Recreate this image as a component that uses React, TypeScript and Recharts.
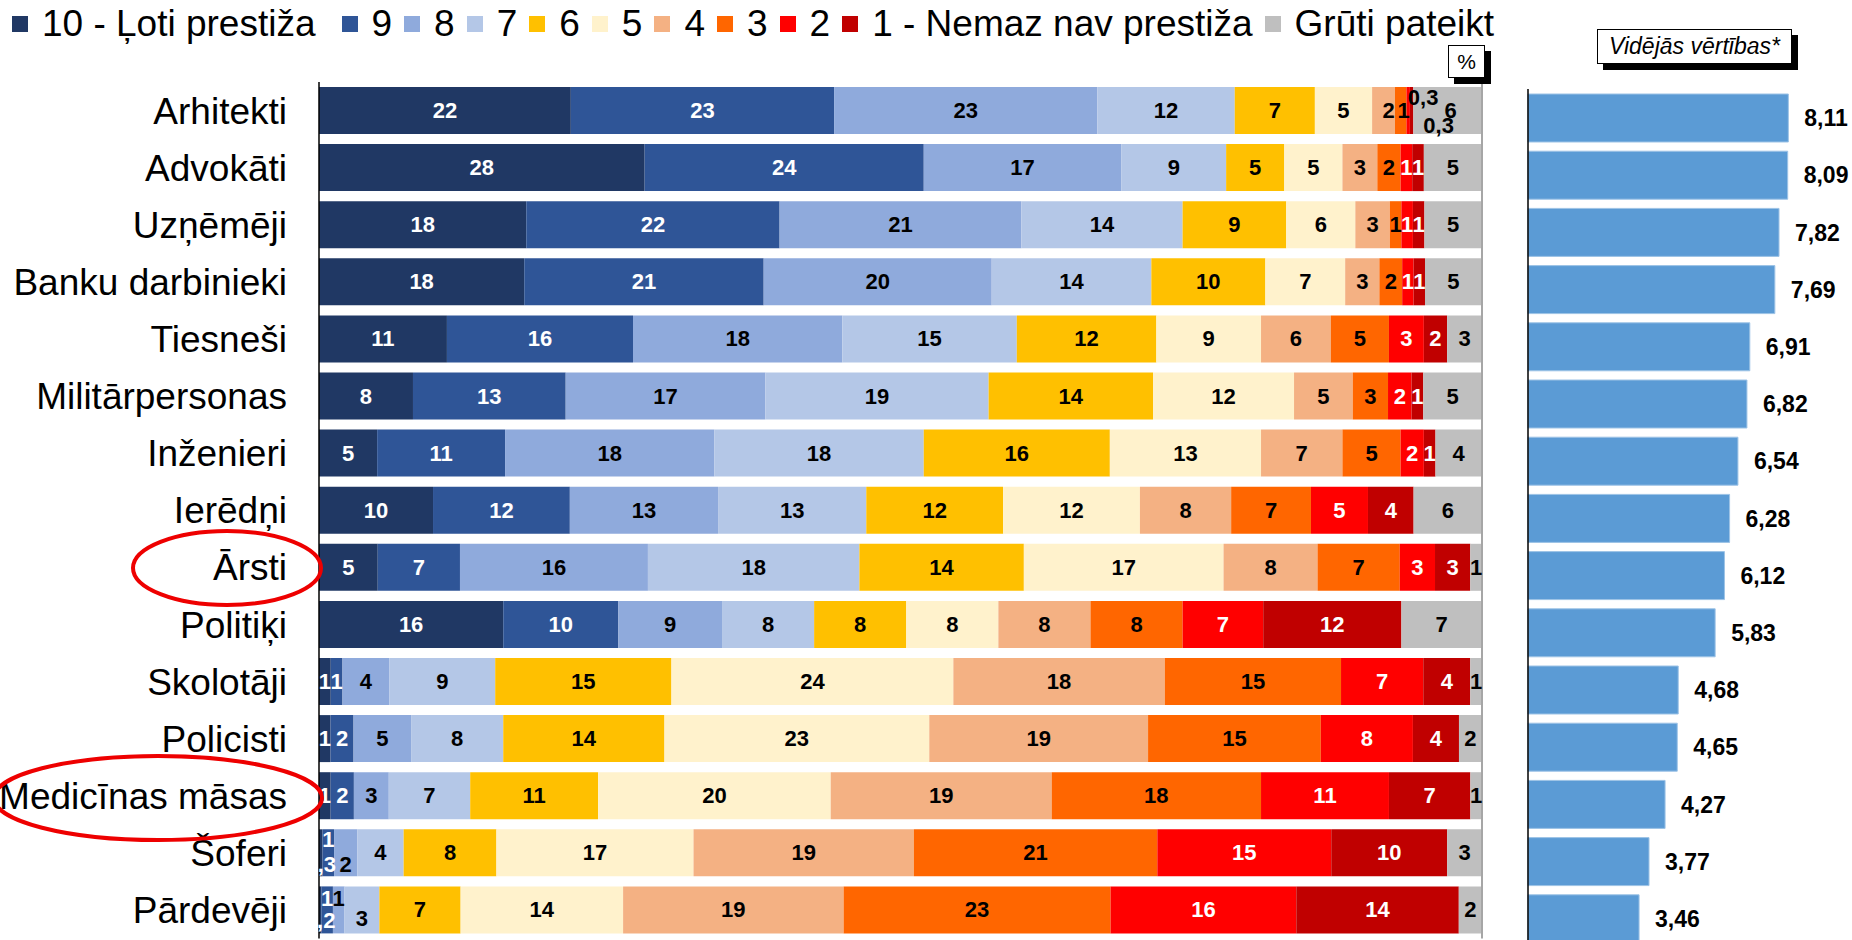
import React from 'react';
import { BarChart, Bar, XAxis, YAxis, LabelList, ReferenceLine } from 'recharts';

const FONT = '"Liberation Sans", Arial, sans-serif';

const professions = ['Arhitekti', 'Advokāti', 'Uzņēmēji', 'Banku darbinieki', 'Tiesneši', 'Militārpersonas', 'Inženieri', 'Ierēdņi', 'Ārsti', 'Politiķi', 'Skolotāji', 'Policisti', 'Medicīnas māsas', 'Šoferi', 'Pārdevēji'];

const score10 = [22, 28, 18, 18, 11, 8, 5, 10, 5, 16, 1, 1, 1, 0.3, 0.2];
const score9 = [23, 24, 22, 21, 16, 13, 11, 12, 7, 10, 1, 2, 2, 1, 1];
const score8 = [23, 17, 21, 20, 18, 17, 18, 13, 16, 9, 4, 5, 3, 2, 1];
const score7 = [12, 9, 14, 14, 15, 19, 18, 13, 18, 8, 9, 8, 7, 4, 3];
const score6 = [7, 5, 9, 10, 12, 14, 16, 12, 14, 8, 15, 14, 11, 8, 7];
const score5 = [5, 5, 6, 7, 9, 12, 13, 12, 17, 8, 24, 23, 20, 17, 14];
const score4 = [2, 3, 3, 3, 6, 5, 7, 8, 8, 8, 18, 19, 19, 19, 19];
const score3 = [1, 2, 1, 2, 5, 3, 5, 7, 7, 8, 15, 15, 18, 21, 23];
const score2 = [0.3, 1, 1, 1, 3, 2, 2, 5, 3, 7, 7, 8, 11, 15, 16];
const score1 = [0.3, 1, 1, 1, 2, 1, 1, 4, 3, 12, 4, 4, 7, 10, 14];
const hardToSay = [6, 5, 5, 5, 3, 5, 4, 6, 1, 7, 1, 2, 1, 3, 2];

const averages = [8.11, 8.09, 7.82, 7.69, 6.91, 6.82, 6.54, 6.28, 6.12, 5.83, 4.68, 4.65, 4.27, 3.77, 3.46];

const series = [
  { key: 's10', name: '10 - Ļoti prestiža', color: '#203864', text: '#fff', values: score10 },
  { key: 's9', name: '9', color: '#2F5597', text: '#fff', values: score9 },
  { key: 's8', name: '8', color: '#8FAADC', text: '#000', values: score8 },
  { key: 's7', name: '7', color: '#B4C7E7', text: '#000', values: score7 },
  { key: 's6', name: '6', color: '#FFC000', text: '#000', values: score6 },
  { key: 's5', name: '5', color: '#FFF2CC', text: '#000', values: score5 },
  { key: 's4', name: '4', color: '#F4B183', text: '#000', values: score4 },
  { key: 's3', name: '3', color: '#FF6600', text: '#000', values: score3 },
  { key: 's2', name: '2', color: '#FF0000', text: '#fff', values: score2 },
  { key: 's1', name: '1 - Nemaz nav prestiža', color: '#C00000', text: '#fff', values: score1 },
  { key: 'gr', name: 'Grūti pateikt', color: '#BFBFBF', text: '#000', values: hardToSay },
];

const rows = professions.map((name, i) => {
  const r: any = { name, avg: averages[i] };
  series.forEach((s) => { r[s.key] = s.values[i]; });
  return r;
});

// labels that were moved by hand in the original, to avoid overlap
const nudges: Record<string, { dx?: number; dy?: number; fill?: string }> = {
  'Arhitekti|s4': { dx: 5 },
  'Arhitekti|s3': { dx: 3 },
  'Arhitekti|s2': { dx: 15, dy: -13, fill: '#000' },
  'Arhitekti|s1': { dx: 27, dy: 15, fill: '#000' },
  'Arhitekti|gr': { dx: 3 },
  'Šoferi|s10': { dy: 12 },
  'Šoferi|s9': { dy: -13 },
  'Šoferi|s8': { dy: 12 },
  'Pārdevēji|s10': { dy: 11 },
  'Pārdevēji|s9': { dy: -11 },
  'Pārdevēji|s8': { dy: -11 },
  'Pārdevēji|s7': { dy: 9 },
};

const fmt = (v: number) => String(v).replace('.', ',');

const segLabel = (s: typeof series[number]) => (props: any) => {
  const vb = props.viewBox || props;
  const { x, y, width, height } = vb;
  const idx = props.index;
  const row = idx != null ? professions[idx] : props.payload?.name;
  const n = nudges[`${row}|${s.key}`] || {};
  return (
    <text
      x={x + width / 2 + (n.dx || 0)}
      y={y + height / 2 + (n.dy || 0)}
      textAnchor="middle"
      dominantBaseline="central"
      fontSize={22}
      fontWeight="bold"
      fontFamily={FONT}
      fill={n.fill || s.text}
    >
      {fmt(props.value)}
    </text>
  );
};

function Legend() {
  return (
    <div style={{ position: 'absolute', left: 12, top: 2, display: 'flex', alignItems: 'center', fontSize: 37, fontFamily: FONT, color: '#000', whiteSpace: 'nowrap', lineHeight: '44px' }}>
      {series.map((s, i) => (
        <div key={s.key} style={{ display: 'flex', alignItems: 'center', marginRight: i === 0 ? 26 : 12 }}>
          <span style={{ display: 'inline-block', width: 16, height: 16, background: s.color, marginRight: 14 }} />
          <span>{s.name}</span>
        </div>
      ))}
    </div>
  );
}

function BoxNote({ left, top, width, height, children, fontSize, italic }: any) {
  return (
    <div style={{
      position: 'absolute', left, top, width, height, boxSizing: 'border-box', background: '#fff',
      border: '1px solid #000', boxShadow: '6px 6px 0 #000', fontFamily: FONT, fontSize,
      fontStyle: italic ? 'italic' : 'normal', display: 'flex', alignItems: 'center', justifyContent: 'center', color: '#000',
    }}>
      {children}
    </div>
  );
}

export default function App() {
  return (
    <div style={{ position: 'fixed', left: 0, top: 0, width: 1852, height: 940, overflow: 'hidden', background: '#fff', fontFamily: FONT }}>
      <Legend />

      <div style={{ position: 'absolute', left: 0, top: 0 }}>
        <BarChart width={1490} height={940} data={rows} layout="vertical" stackOffset="expand" margin={{ top: 82, right: 8, bottom: 1.5, left: 0 }}>
          <XAxis type="number" domain={[0, 1]} allowDataOverflow orientation="top" height={0} tick={false} tickLine={false} axisLine={{ stroke: '#BFBFBF', strokeWidth: 1.5 }} />
          <YAxis
            type="category"
            dataKey="name"
            width={319}
            interval={0}
            tickSize={0}
            tickMargin={32}
            tickLine={false}
            axisLine={{ stroke: '#000', strokeWidth: 1.5 }}
            tick={{ fontSize: 37, fill: '#000', fontFamily: FONT }}
          />
          <ReferenceLine x={1} stroke="#A6A6A6" strokeWidth={2} />
          {series.map((s) => (
            <Bar key={s.key} dataKey={s.key} name={s.name} stackId="a" fill={s.color} barSize={47} isAnimationActive={false}>
              <LabelList dataKey={s.key} content={segLabel(s)} />
            </Bar>
          ))}
        </BarChart>
      </div>

      <div style={{ position: 'absolute', left: 1527, top: 0 }}>
        <BarChart width={325} height={948} data={rows} layout="vertical" margin={{ top: 89, right: 3, bottom: 1, left: 0 }}>
          <XAxis type="number" domain={[0, 10]} hide />
          <YAxis type="category" dataKey="name" width={1} tick={false} tickLine={false} axisLine={{ stroke: '#000', strokeWidth: 1.5 }} />
          <Bar dataKey="avg" fill="#5B9BD5" stroke="#9DC3E6" strokeWidth={1} barSize={48} isAnimationActive={false}>
            <LabelList
              dataKey="avg"
              position="right"
              offset={16}
              formatter={(v: any) => Number(v).toFixed(2).replace('.', ',')}
              style={{ fontSize: 23, fontWeight: 'bold', fill: '#000', fontFamily: FONT }}
            />
          </Bar>
        </BarChart>
      </div>

      <BoxNote left={1448} top={45} width={37} height={33} fontSize={21}>%</BoxNote>
      <BoxNote left={1597} top={29} width={195} height={35} fontSize={23} italic>Vidējās vērtības*</BoxNote>

      <svg width={1852} height={940} style={{ position: 'absolute', left: 0, top: 0, pointerEvents: 'none' }}>
        <ellipse cx={227} cy={568} rx={94} ry={37} fill="none" stroke="#EE0000" strokeWidth={4} />
        <ellipse cx={158} cy={798} rx={164} ry={42} fill="none" stroke="#EE0000" strokeWidth={4} />
      </svg>
    </div>
  );
}
